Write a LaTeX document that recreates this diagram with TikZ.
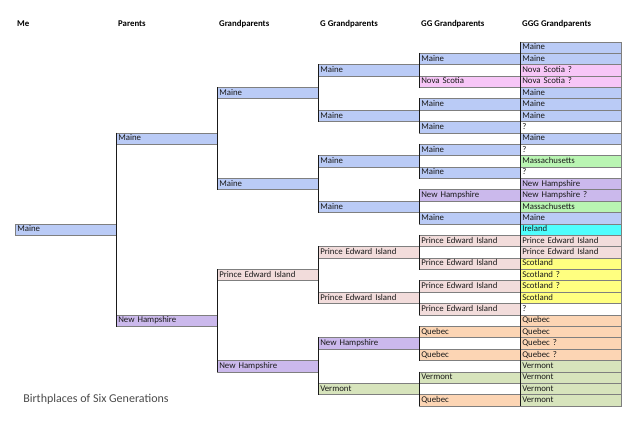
\documentclass[tikz,border=0pt]{standalone}
\usepackage{fontspec}
\setmainfont{Carlito}
\usepackage{xcolor}
\definecolor{Maine}{HTML}{BACBF6}
\definecolor{NovaScotia}{HTML}{F7C6F7}
\definecolor{Mass}{HTML}{B9F5B2}
\definecolor{NewHamp}{HTML}{CBB9EC}
\definecolor{Ireland}{HTML}{4FFDFD}
\definecolor{PEI}{HTML}{F2DCDB}
\definecolor{Scotland}{HTML}{FFFF80}
\definecolor{Quebec}{HTML}{FCD5B4}
\definecolor{Vermont}{HTML}{D7E4BC}
\definecolor{Grid}{HTML}{7F7F7F}
\definecolor{Ink}{HTML}{1A1A1A}
\definecolor{Muted}{HTML}{4A4A4A}
\tikzset{
  cell/.style={draw=Grid,line width=0.6bp,fill=white,anchor=north west,text width=97bp,inner xsep=2bp,inner ysep=0pt,minimum height=11.38bp,align=left,text height=5.7bp,text depth=1.2bp,font=\fontsize{8.8bp}{10bp}\selectfont,text=Ink},
  maine/.style={cell,fill=Maine},
  nova/.style={cell,fill=NovaScotia},
  mass/.style={cell,fill=Mass},
  hamp/.style={cell,fill=NewHamp},
  ire/.style={cell,fill=Ireland},
  pei/.style={cell,fill=PEI},
  scot/.style={cell,fill=Scotland},
  queb/.style={cell,fill=Quebec},
  verm/.style={cell,fill=Vermont},
  unknown/.style={cell,fill=white},
  colhead/.style={anchor=west,inner xsep=2bp,inner ysep=0pt,font=\fontsize{8.8bp}{10bp}\selectfont\bfseries,text=black},
  branch/.style={draw=Ink,line width=0.8bp}
}

\begin{document}
\begin{tikzpicture}[x=101bp,y=-11.38bp]
  \useasboundingbox (-15bp,41.5bp) rectangle (625bp,-385.5bp);
  % column titles
  \node[colhead] (hme) at (0,-1.55) {Me};
  \node[colhead] (hpar) at (1,-1.55) {Parents};
  \node[colhead] (hgp) at (2,-1.55) {Grandparents};
  \node[colhead] (hg) at (3,-1.55) {G Grandparents};
  \node[colhead] (hgg) at (4,-1.55) {GG Grandparents};
  \node[colhead] (hggg) at (5,-1.55) {GGG Grandparents};

  % me and parents
  \node[maine] (me) at (0,16) {Maine};
  \node[maine] (par1) at (1,8) {Maine};
  \node[hamp] (par2) at (1,24) {New Hampshire};

  % grandparents
  \node[maine] (gp1) at (2,4) {Maine};
  \node[maine] (gp2) at (2,12) {Maine};
  \node[pei] (gp3) at (2,20) {Prince Edward Island};
  \node[hamp] (gp4) at (2,28) {New Hampshire};

  % great grandparents
  \node[maine] (g1) at (3,2) {Maine};
  \node[maine] (g2) at (3,6) {Maine};
  \node[maine] (g3) at (3,10) {Maine};
  \node[maine] (g4) at (3,14) {Maine};
  \node[pei] (g5) at (3,18) {Prince Edward Island};
  \node[pei] (g6) at (3,22) {Prince Edward Island};
  \node[hamp] (g7) at (3,26) {New Hampshire};
  \node[verm] (g8) at (3,30) {Vermont};

  % gg grandparents
  \node[maine] (gg1) at (4,1) {Maine};
  \node[nova] (gg2) at (4,3) {Nova Scotia};
  \node[maine] (gg3) at (4,5) {Maine};
  \node[maine] (gg4) at (4,7) {Maine};
  \node[maine] (gg5) at (4,9) {Maine};
  \node[maine] (gg6) at (4,11) {Maine};
  \node[hamp] (gg7) at (4,13) {New Hampshire};
  \node[maine] (gg8) at (4,15) {Maine};
  \node[pei] (gg9) at (4,17) {Prince Edward Island};
  \node[pei] (gg10) at (4,19) {Prince Edward Island};
  \node[pei] (gg11) at (4,21) {Prince Edward Island};
  \node[pei] (gg12) at (4,23) {Prince Edward Island};
  \node[queb] (gg13) at (4,25) {Quebec};
  \node[queb] (gg14) at (4,27) {Quebec};
  \node[verm] (gg15) at (4,29) {Vermont};
  \node[queb] (gg16) at (4,31) {Quebec};

  % ggg grandparents
  \node[maine] (ggg1) at (5,0) {Maine};
  \node[maine] (ggg2) at (5,1) {Maine};
  \node[nova] (ggg3) at (5,2) {Nova Scotia ?};
  \node[nova] (ggg4) at (5,3) {Nova Scotia ?};
  \node[maine] (ggg5) at (5,4) {Maine};
  \node[maine] (ggg6) at (5,5) {Maine};
  \node[maine] (ggg7) at (5,6) {Maine};
  \node[unknown] (ggg8) at (5,7) {?};
  \node[maine] (ggg9) at (5,8) {Maine};
  \node[unknown] (ggg10) at (5,9) {?};
  \node[mass] (ggg11) at (5,10) {Massachusetts};
  \node[unknown] (ggg12) at (5,11) {?};
  \node[hamp] (ggg13) at (5,12) {New Hampshire};
  \node[hamp] (ggg14) at (5,13) {New Hampshire ?};
  \node[mass] (ggg15) at (5,14) {Massachusetts};
  \node[maine] (ggg16) at (5,15) {Maine};
  \node[ire] (ggg17) at (5,16) {Ireland};
  \node[pei] (ggg18) at (5,17) {Prince Edward Island};
  \node[pei] (ggg19) at (5,18) {Prince Edward Island};
  \node[scot] (ggg20) at (5,19) {Scotland};
  \node[scot] (ggg21) at (5,20) {Scotland ?};
  \node[scot] (ggg22) at (5,21) {Scotland ?};
  \node[scot] (ggg23) at (5,22) {Scotland};
  \node[unknown] (ggg24) at (5,23) {?};
  \node[queb] (ggg25) at (5,24) {Quebec};
  \node[queb] (ggg26) at (5,25) {Quebec};
  \node[queb] (ggg27) at (5,26) {Quebec ?};
  \node[queb] (ggg28) at (5,27) {Quebec ?};
  \node[verm] (ggg29) at (5,28) {Vermont};
  \node[verm] (ggg30) at (5,29) {Vermont};
  \node[verm] (ggg31) at (5,30) {Vermont};
  \node[verm] (ggg32) at (5,31) {Vermont};

  % branches: each pair of parents joined on their left edge
  \draw[branch] (par1.north west) -- (par2.south west);
  \foreach \a/\b in {gp1/gp2,gp3/gp4,g1/g2,g3/g4,g5/g6,g7/g8,
      gg1/gg2,gg3/gg4,gg5/gg6,gg7/gg8,gg9/gg10,gg11/gg12,gg13/gg14,gg15/gg16,
      ggg1/ggg2,ggg3/ggg4,ggg5/ggg6,ggg7/ggg8,ggg9/ggg10,ggg11/ggg12,ggg13/ggg14,ggg15/ggg16,
      ggg17/ggg18,ggg19/ggg20,ggg21/ggg22,ggg23/ggg24,ggg25/ggg26,ggg27/ggg28,ggg29/ggg30,ggg31/ggg32}
    \draw[branch] (\a.north west) -- (\b.south west);

  \node[anchor=west,inner sep=0pt,font=\fontsize{12bp}{14bp}\selectfont,text=Muted] (title) at (0.08,31.45) {Birthplaces of Six Generations};
\end{tikzpicture}
\end{document}
